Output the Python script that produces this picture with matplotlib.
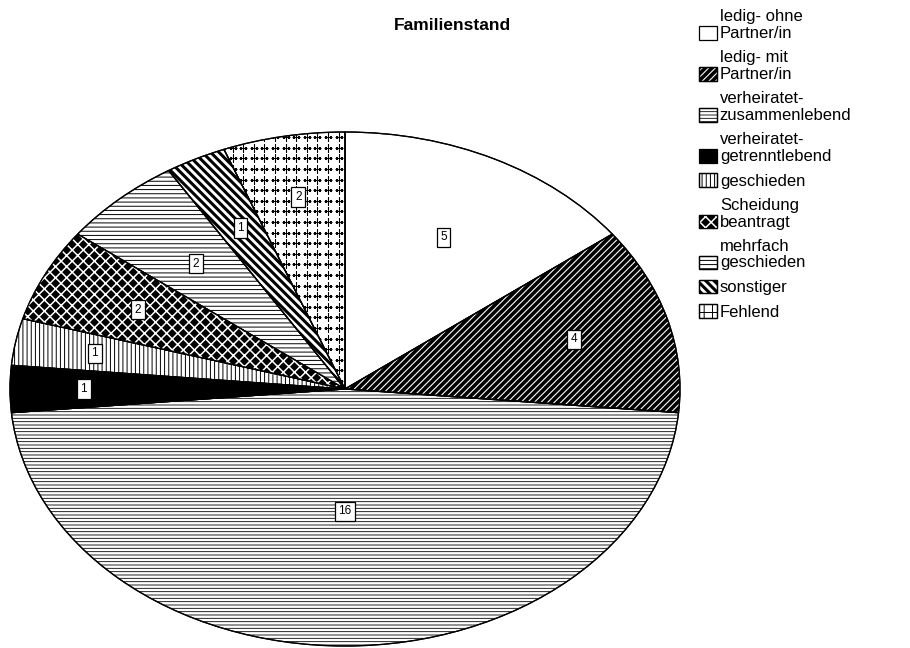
import matplotlib
matplotlib.use('Agg')
import matplotlib.pyplot as plt
from matplotlib.patches import Wedge, Patch, Rectangle
from matplotlib.legend_handler import HandlerPatch
import numpy as np

categories = ['ledig- ohne\nPartner/in', 'ledig- mit\nPartner/in', 'verheiratet-\nzusammenlebend',
              'verheiratet-\ngetrenntlebend', 'geschieden', 'Scheidung\nbeantragt',
              'mehrfach\ngeschieden', 'sonstiger', 'Fehlend']
counts = [5, 4, 16, 1, 1, 2, 2, 1, 2]

# face colour, hatch, hatch colour, hatch width (pt)
styles = [
    ('white', None, None, 0),
    ('white', '/////', 'black', 2.6),
    ('white', '-----', 'black', 0.6),
    ('black', None, None, 0),
    ('white', '||||', 'black', 0.7),
    ('black', 'xxx', 'white', 1.1),
    ('white', '----', 'black', 0.7),
    ('white', '\\\\\\\\', 'black', 2.2),
    ('white', 'plus', 'black', 0.7),
]
# radial position of the value boxes
label_r = [0.66, 0.71, 0.475, 0.78, 0.76, 0.69, 0.66, 0.70, 0.76]

plt.rcParams['font.family'] = ['Liberation Sans', 'DejaVu Sans']


def with_hatch_width(artist, lw):
    # hatch width is a global rc setting: use it at creation and while drawing
    draw = artist.draw

    def _draw(renderer, *args, **kwargs):
        with plt.rc_context({'hatch.linewidth': lw}):
            draw(renderer, *args, **kwargs)
    artist.draw = _draw
    if hasattr(artist, 'set_hatch_linewidth'):
        artist.set_hatch_linewidth(lw)
    return artist


fig = plt.figure(figsize=(9.1, 6.48), dpi=100)
ax = fig.add_axes([8 / 910, 0 / 648, 674 / 910, 518 / 648])

wedges, _ = ax.pie(counts, startangle=90, counterclock=False,
                   colors=[s[0] for s in styles],
                   wedgeprops=dict(edgecolor='black', linewidth=0.9))
lim = 674 / 670
ax.set_xlim(-lim, lim)
ax.set_ylim(-518 / 514, 518 / 514)
ax.set_aspect('auto')
ax.axis('off')

for w, (fc, hatch, hc, lw) in zip(wedges, styles):
    w.set_zorder(1)
    if hatch == 'plus':
        gx = np.arange(-1, 1, 10.6 / 335)
        gy = np.arange(-1, 1, 10.6 / 257)
        xx, yy = np.meshgrid(gx, gy)
        sc = ax.scatter(xx.ravel(), yy.ravel(), marker='+', s=40, c='black',
                        linewidths=0.8, zorder=2)
        sc.set_clip_path(w)
    elif hatch:
        plt.rcParams['hatch.linewidth'] = lw
        p = Wedge(w.center, w.r, w.theta1, w.theta2, facecolor='none', edgecolor=hc,
                  hatch=hatch, linewidth=0, zorder=2)
        ax.add_patch(with_hatch_width(p, lw))
    ax.add_patch(Wedge(w.center, w.r, w.theta1, w.theta2, fill=False,
                       edgecolor='black', linewidth=0.9, zorder=3))

for w, n, r in zip(wedges, counts, label_r):
    mid = np.deg2rad((w.theta1 + w.theta2) / 2)
    ax.text(r * np.cos(mid), r * np.sin(mid), str(n), ha='center', va='center',
            fontsize=8.5, zorder=5,
            bbox=dict(boxstyle='square,pad=0.3', facecolor='white',
                      edgecolor='black', linewidth=0.9))

fig.text(452 / 910, 1 - 26 / 648, 'Familienstand', ha='center', va='center',
         fontsize=12.5, fontweight='bold')


def legend_box(legend, orig_handle, xdescent, ydescent, width, height, fontsize):
    lw = getattr(orig_handle, 'hatch_lw', None)
    shift = getattr(orig_handle, 'shift', 0)
    if lw:
        plt.rcParams['hatch.linewidth'] = lw
    r = Rectangle((-xdescent, -ydescent - shift), width, height)
    if lw:
        with_hatch_width(r, lw)
    return r


handles = []
for (fc, hatch, hc, lw), name in zip(styles, categories):
    parts = [Patch(facecolor=fc, edgecolor='black', linewidth=0.9)]
    if hatch:
        if hatch == 'plus':
            hatch, hc = '++', 'black'
        plt.rcParams['hatch.linewidth'] = lw
        over = with_hatch_width(Patch(facecolor='none', edgecolor=hc, hatch=hatch,
                                      linewidth=0), lw)
        over.hatch_lw = lw
        parts += [over, Patch(fill=False, edgecolor='black', linewidth=0.9)]
    # two-line entries: box sits beside the lower line
    for p in parts:
        p.shift = 5.5 if '\n' in name else 0
    handles.append(tuple(parts) if len(parts) > 1 else parts[0])

leg = fig.legend(handles, categories, loc='upper left',
                 bbox_to_anchor=(699 / 910, 1 - 9 / 648),
                 frameon=False, fontsize=12, handlelength=1.05, handleheight=0.9,
                 handletextpad=0.2, labelspacing=0.55, borderpad=0, borderaxespad=0,
                 handler_map={Patch: HandlerPatch(patch_func=legend_box)})
for t in leg.get_texts():
    t.set_linespacing(1.15)

plt.savefig('out.png', dpi=100)
